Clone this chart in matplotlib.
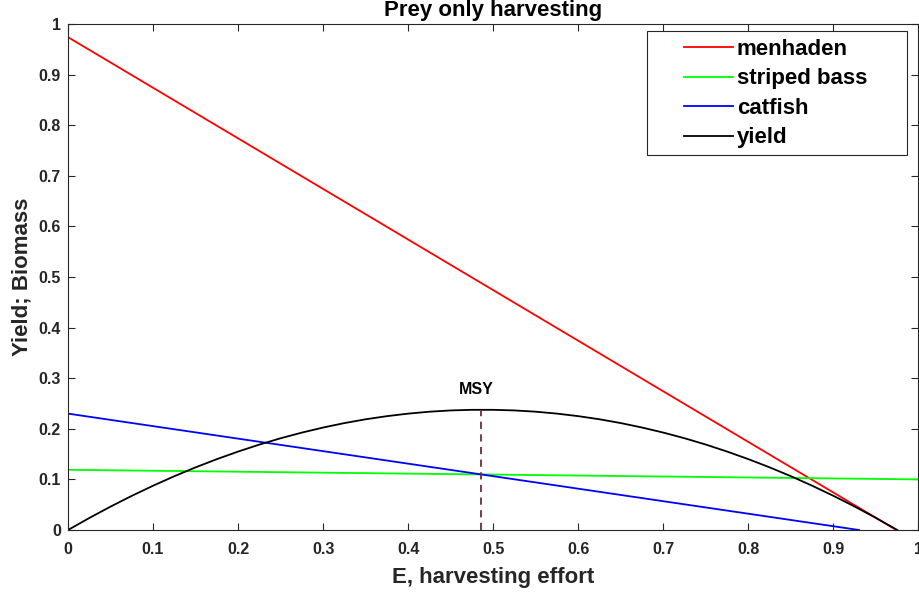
import matplotlib
matplotlib.use("Agg")
import matplotlib.pyplot as plt
from matplotlib.patches import Rectangle

plt.rcParams['font.family'] = ['Liberation Sans', 'DejaVu Sans']

# Data
menhaden_E = [0.0, 0.974]
menhaden = [0.974, 0.0]
bass_E = [0.0, 1.0]
bass = [0.119, 0.100]
catfish_E = [0.0, 0.930]
catfish = [0.230, 0.0]
yield_E = [0.0, 0.025, 0.05, 0.075, 0.1, 0.125, 0.15, 0.175, 0.2, 0.225, 0.25,
           0.275, 0.3, 0.325, 0.35, 0.375, 0.4, 0.425, 0.45, 0.475, 0.5, 0.525,
           0.55, 0.575, 0.6, 0.625, 0.65, 0.675, 0.7, 0.725, 0.75, 0.775, 0.8,
           0.825, 0.85, 0.875, 0.9, 0.925, 0.95, 0.975]
yield_v = [0.0, 0.0237, 0.0462, 0.0675, 0.0875, 0.1063, 0.1238, 0.1400, 0.1550,
           0.1688, 0.1813, 0.1925, 0.2025, 0.2113, 0.2188, 0.2250, 0.2300, 0.2338,
           0.2363, 0.2375, 0.2375, 0.2363, 0.2338, 0.2300, 0.2250, 0.2188, 0.2113,
           0.2025, 0.1925, 0.1813, 0.1688, 0.1550, 0.1400, 0.1238, 0.1063, 0.0875,
           0.0675, 0.0463, 0.0238, 0.0]
msy_E = 0.486
msy_val = 0.237
xticks = [0, 0.1, 0.2, 0.3, 0.4, 0.5, 0.6, 0.7, 0.8, 0.9, 1]
yticks = [0, 0.1, 0.2, 0.3, 0.4, 0.5, 0.6, 0.7, 0.8, 0.9, 1]

W, H = 919, 596
fig = plt.figure(figsize=(W/100, H/100), dpi=100)
ax = fig.add_axes([68/W, (H-530)/H, (918.5-68)/W, (530-24)/H])

lw = 1.3
ax.plot(menhaden_E, menhaden, color='#ff0000', lw=lw, label='menhaden')
ax.plot(bass_E, bass, color='#00ff00', lw=lw, label='striped bass')
ax.plot(catfish_E, catfish, color='#0000ff', lw=lw, label='catfish')
ax.plot(yield_E, yield_v, color='#000000', lw=lw, label='yield')
ax.plot([msy_E, msy_E], [0, msy_val], color='#6b2e3a', lw=1.3, ls=(0, (4, 3)))
ax.text(msy_E - 0.006, msy_val + 0.025, 'MSY', ha='center', va='bottom',
        fontsize=11.5, fontweight='bold')

ax.set_xlim(0, 1)
ax.set_ylim(0, 1)
ax.set_xticks(xticks)
ax.set_yticks(yticks)
ax.set_xticklabels([f'{t:g}' for t in xticks], fontsize=11.5, fontweight='bold',
                   color='#262626')
ax.set_yticklabels([f'{t:g}' for t in yticks], fontsize=11.5, fontweight='bold',
                   color='#262626')
ax.tick_params(direction='in', length=5, width=0.8, color='#262626',
               top=True, right=True)
ax.tick_params(axis='x', pad=8.5)
ax.tick_params(axis='y', pad=5)
for s in ax.spines.values():
    s.set_color('#262626')
    s.set_linewidth(0.8)

ax.set_xlabel('E, harvesting effort', fontsize=16, fontweight='bold', color='#262626')
ax.xaxis.label.set_va('center')
ax.xaxis.set_label_coords(0.5, (530-578)/506)
ax.set_ylabel('Yield; Biomass', fontsize=16, fontweight='bold', color='#262626')
ax.yaxis.label.set_va('center')
ax.yaxis.set_label_coords((22-68)/850.5, 0.5)
ax.set_title('Prey only harvesting', fontsize=16, fontweight='bold', pad=6)

# legend box drawn as a rectangle, entries from a frameless legend
box = Rectangle((647/W, (H-155)/H), (907-647)/W, (155-31)/H,
                transform=fig.transFigure, facecolor='white',
                edgecolor='#262626', lw=0.8, zorder=5, clip_on=False)
ax.add_patch(box)
leg = ax.legend(loc='upper left', bbox_to_anchor=(684/W, (H-39)/H),
                bbox_transform=fig.transFigure, fontsize=16, frameon=False,
                handlelength=2.2, handletextpad=0.18, borderpad=0,
                labelspacing=0.38, borderaxespad=0)
leg.set_zorder(10)
for t in leg.get_texts():
    t.set_fontweight('bold')

fig.savefig('out.png', dpi=100)
